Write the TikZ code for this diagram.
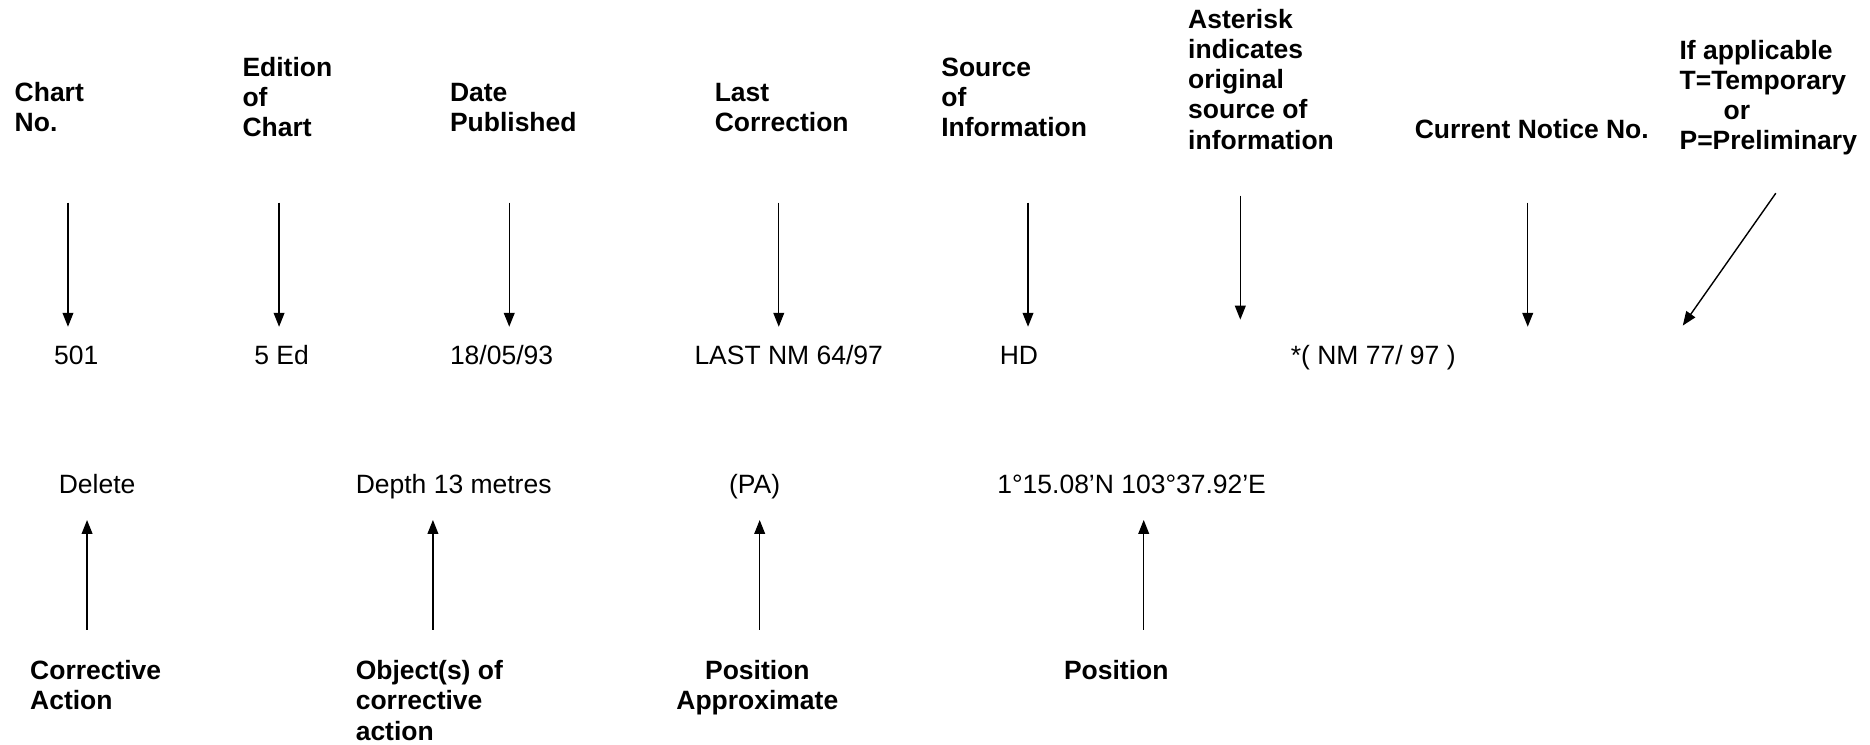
\documentclass[tikz,border=0pt]{standalone}
\usepackage{fontspec}
\setmainfont{Liberation Sans}
\usetikzlibrary{arrows.meta}
\newcommand{\mlL}[1]{\begin{tabular}[t]{@{}l@{}}#1\end{tabular}}
\newcommand{\mlC}[1]{\begin{tabular}[t]{@{}c@{}}#1\end{tabular}}
\begin{document}
\begin{tikzpicture}[x=0.5963pt,y=-0.5963pt,
  every node/.style={inner sep=0pt, font=\fontsize{13.24pt}{15.06pt}\selectfont},
  lab/.style={anchor=base west, font=\fontsize{13.24pt}{15.06pt}\selectfont\bfseries},
  val/.style={anchor=base west},
  arr/.style={-{Triangle[length=7pt,width=5.4pt]}, line width=0.7pt}]
\useasboundingbox (0,0) rectangle (1568,624);
% top labels
\node[lab] (chart) at (12,85) {\mlL{Chart\\No.}};
\node[lab] (edition) at (203,64) {\mlL{Edition\\of\\Chart}};
\node[lab] (date) at (377,85) {\mlL{Date\\Published}};
\node[lab] (last) at (599,85) {\mlL{Last\\Correction}};
\node[lab] (source) at (789,64) {\mlL{Source\\of\\Information}};
\node[lab] (aster) at (996,24) {\mlL{Asterisk\\indicates\\original\\source of\\information}};
\node[lab] (current) at (1186,116) {Current Notice No.};
\node[lab] (ifapp) at (1408,49.5) {\mlL{If applicable\\T=Temporary\\\hspace*{22pt}or\\P=Preliminary}};
% values row 1
\node[val] (v501) at (45,306) {501};
\node[val] (v5ed) at (213,306) {5 Ed};
\node[val] (vdate) at (377,306) {18/05/93};
\node[val] (vlast) at (582,306) {LAST NM 64/97};
\node[val] (vhd) at (838,306) {HD};
\node[val] (vnm) at (1082,306) {*( NM 77/ 97 )};
% values row 2
\node[val] (vdel) at (49,414) {Delete};
\node[val] (vdepth) at (298,414) {Depth 13 metres};
\node[val] (vpa) at (611,414) {(PA)};
\node[val] (vpos) at (836,414) {1°15.08’N 103°37.92’E};
% bottom labels
\node[lab] (corr) at (25,570) {\mlL{Corrective\\Action}};
\node[lab] (obj) at (298,570) {\mlL{Object(s) of\\corrective\\action}};
\node[lab, anchor=base] (posapp) at (635,570) {\mlC{Position\\Approximate}};
\node[lab, anchor=base] (pos) at (936,570) {Position};
% arrow end points
\coordinate (d1s) at (57,170);   \coordinate (d1e) at (57,274);
\coordinate (d2s) at (234,170);  \coordinate (d2e) at (234,274);
\coordinate (d3s) at (427,170);  \coordinate (d3e) at (427,274);
\coordinate (d4s) at (653,170);  \coordinate (d4e) at (653,274);
\coordinate (d5s) at (862,170);  \coordinate (d5e) at (862,274);
\coordinate (d6s) at (1040,164); \coordinate (d6e) at (1040,268);
\coordinate (d7s) at (1281,170); \coordinate (d7e) at (1281,274);
\coordinate (d8s) at (1489,162); \coordinate (d8e) at (1411,273);
\coordinate (u1s) at (73,528);   \coordinate (u1e) at (73,436);
\coordinate (u2s) at (363,528);  \coordinate (u2e) at (363,436);
\coordinate (u3s) at (637,528);  \coordinate (u3e) at (637,436);
\coordinate (u4s) at (959,528);  \coordinate (u4e) at (959,436);
\foreach \n in {d1,d2,d3,d4,d5,d6,d7,d8,u1,u2,u3,u4}
  \draw[arr] (\n s) -- (\n e);
\end{tikzpicture}
\end{document}
